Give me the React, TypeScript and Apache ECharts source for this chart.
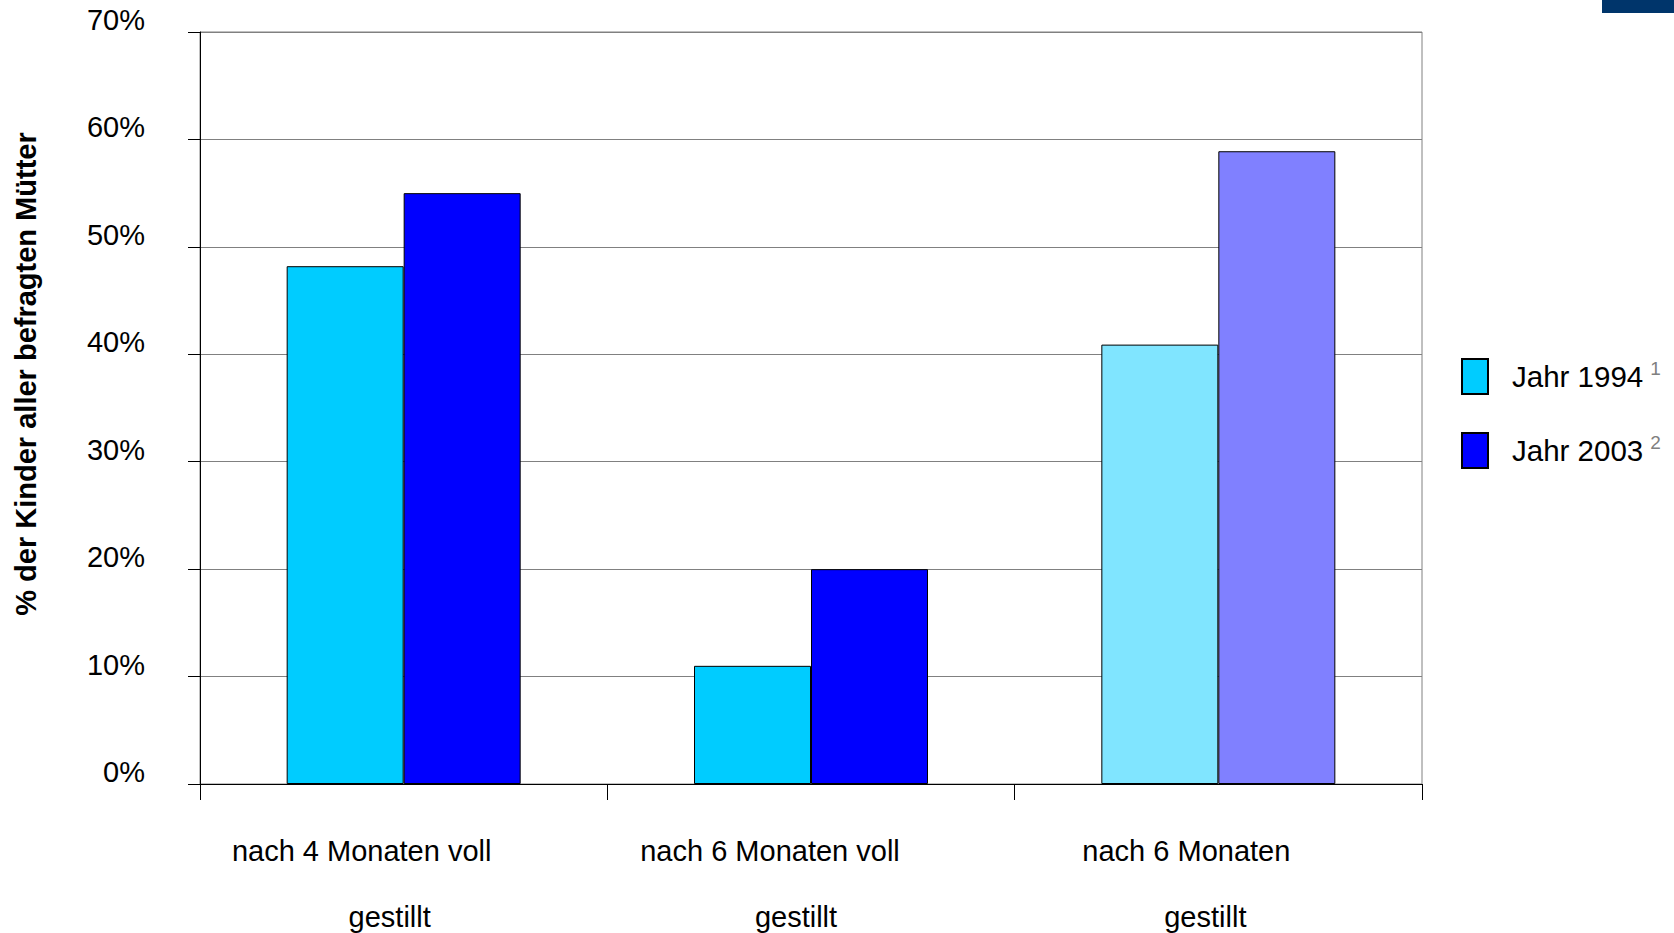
import React, { useEffect, useRef } from "react";
import * as echarts from "echarts";

const categories = ["nach 4 Monaten voll\ngestillt", "nach 6 Monaten voll\ngestillt", "nach 6 Monaten\ngestillt"];
const series1994 = [48.2, 11.0, 40.9];
const series2003 = [55.0, 20.0, 58.9];
const seriesNames = ["Jahr 1994", "Jahr 2003"];
const footnotes = ["1", "2"];
const yTicks = [0, 10, 20, 30, 40, 50, 60, 70];

const FONT = "'Liberation Sans', Arial, sans-serif";
// per-category horizontal shift (px) for label lines, mimicking the original layout
const line1Shift = [42, 41, 32];
const line2Shift = [14, 15, 13];

export default function App() {
  const ref = useRef<HTMLDivElement>(null);
  useEffect(() => {
    if (!ref.current) return;
    const chart = echarts.init(ref.current, null, { renderer: "svg" });
    const rich: any = {};
    categories.forEach((_, i) => {
      rich["a" + i] = { fontSize: 29, lineHeight: 66, color: "#000", fontFamily: FONT, padding: [0, line1Shift[i] * 2, 0, 0] };
      rich["b" + i] = { fontSize: 29, lineHeight: 66, color: "#000", fontFamily: FONT, padding: [0, line2Shift[i] * 2, 0, 0] };
    });
    chart.setOption({
      animation: false,
      backgroundColor: "#fff",
      graphic: [
        { type: "rect", shape: { x: 1602, y: 0, width: 72, height: 13 }, style: { fill: "#00356B" } },
      ],
      grid: {
        left: 200,
        right: 252,
        top: 32,
        bottom: 149,
        show: true,
        borderColor: "#808080",
        borderWidth: 1,
        containLabel: false,
      },
      legend: {
        orient: "vertical",
        left: 1461,
        top: 358,
        padding: 0,
        itemWidth: 26,
        itemHeight: 35,
        itemGap: 37,
        icon: "rect",
        data: seriesNames,
        formatter: (name: string) => {
          const i = seriesNames.indexOf(name);
          return `{t|${name}}{s|${footnotes[i]}}`;
        },
        textStyle: {
          rich: {
            t: { fontSize: 29.5, lineHeight: 35, color: "#000", fontFamily: FONT, padding: [0, 0, 0, 19] },
            s: { fontSize: 19, lineHeight: 20, color: "#808080", fontFamily: FONT, verticalAlign: "top", padding: [0, 0, 0, 7] },
          },
        },
      },
      xAxis: {
        type: "category",
        data: categories,
        axisLine: { show: true, lineStyle: { color: "#000", width: 1 } },
        axisTick: { show: true, length: 16, lineStyle: { color: "#000" } },
        axisLabel: {
          margin: 34,
          interval: 0,
          formatter: (value: string, index: number) => {
            const parts = value.split("\n");
            return `{a${index}|${parts[0]}}\n{b${index}|${parts[1]}}`;
          },
          rich,
        },
      },
      yAxis: {
        type: "value",
        min: yTicks[0],
        max: yTicks[yTicks.length - 1],
        interval: 10,
        name: "% der Kinder aller befragten Mütter",
        nameLocation: "middle",
        nameGap: 160,
        nameTextStyle: { fontSize: 29, fontWeight: "bold", color: "#000", fontFamily: FONT, padding: [0, 0, 0, 68] },
        axisLine: { show: true, lineStyle: { color: "#000", width: 1 } },
        axisTick: { show: true, length: 12, lineStyle: { color: "#000" } },
        axisLabel: {
          formatter: "{value}%",
          fontSize: 29,
          color: "#000",
          fontFamily: FONT,
          margin: 55,
          verticalAlign: "bottom",
          lineHeight: 24,
        },
        splitLine: { show: true, lineStyle: { color: "#808080", width: 1 } },
      },
      series: [
        {
          name: seriesNames[0],
          type: "bar",
          barWidth: 117,
          barGap: "0%",
          itemStyle: { color: "#00CCFF", borderColor: "#000", borderWidth: 1 },
          data: series1994.map((v, i) =>
            i === 2 ? { value: v, itemStyle: { color: "#80E5FF" } } : v
          ),
        },
        {
          name: seriesNames[1],
          type: "bar",
          barWidth: 117,
          barGap: "0%",
          itemStyle: { color: "#0000FF", borderColor: "#000", borderWidth: 1 },
          data: series2003.map((v, i) =>
            i === 2 ? { value: v, itemStyle: { color: "#8080FF" } } : v
          ),
        },
      ],
    });
    return () => chart.dispose();
  }, []);
  return (
    <div
      ref={ref}
      style={{ position: "fixed", left: 0, top: 0, width: 1674, height: 933 }}
    />
  );
}
